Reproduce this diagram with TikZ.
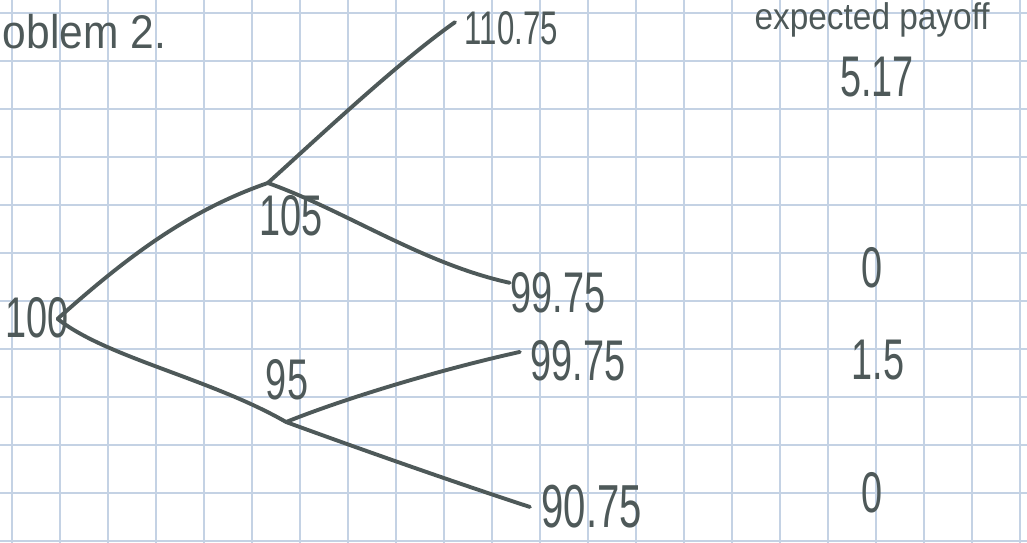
\documentclass[tikz,border=0pt]{standalone}
\usepackage{fontspec}
\newfontfamily\handfont[FakeStretch=0.66]{Liberation Sans}
\newfontfamily\handwide[FakeStretch=0.9]{Liberation Sans}
\definecolor{ink}{RGB}{78,89,89}
\definecolor{gridblue}{RGB}{196,210,228}

\begin{document}
\begin{tikzpicture}[every node/.style={font=\handfont\fontsize{34}{34}\selectfont, text=ink, inner sep=1pt},
    branch/.style={ink, line width=2.3pt, line cap=round}]
    \useasboundingbox (0,0) rectangle (21.396,11.292);
    \clip (0,0) rectangle (21.396,11.292);
    \fill[white] (0,0) rectangle (21.396,11.292);
    % papel quadriculado
    \draw[gridblue, line width=0.9pt, xshift=0.25cm, yshift=0.021cm] (-1,-1) grid (22,12);
    \node[font=\handwide\fontsize{28}{28}\selectfont, anchor=base west] (title) at (0.02,10.29) {oblem 2.};
    \node[font=\handwide\fontsize{22}{22}\selectfont, anchor=base] (payhead) at (18.17,10.67) {expected payoff};
    \node (price) at (18.27,9.69) {5.17};
    % arvore binomial
    \node (n100) at (0.77,4.67) {100};
    \node (n105) at (6.06,6.79) {105};
    \node (n95) at (5.98,3.375) {95};
    \node[font=\handfont\fontsize{28}{28}\selectfont] (n11075) at (10.65,10.71) {110.75};
    \node (n9975a) at (11.625,5.19) {99.75};
    \node (n9975b) at (12.04,3.77) {99.75};
    \node[font=\handfont\fontsize{36}{36}\selectfont] (n9075) at (12.33,0.73) {90.75};
    \coordinate (r) at (1.2,4.65);
    \coordinate (u) at (5.58,7.48);
    \coordinate (d) at (5.96,2.5);
    \coordinate (uu) at (9.48,10.83);
    \coordinate (ud) at (10.62,5.4);
    \coordinate (du) at (10.83,3.96);
    \coordinate (dd) at (11.04,0.73);
    \draw[branch] (r) .. controls (2.6,5.9) and (3.9,6.9) .. (u);
    \draw[branch] (r) .. controls (2.2,3.85) and (4.4,3.4) .. (d);
    \draw[branch] (u) .. controls (6.6,8.4) and (8.3,10.0) .. (uu);
    \draw[branch] (u) .. controls (7.2,6.9) and (8.8,5.8) .. (ud);
    \draw[branch] (d) .. controls (7.2,3.0) and (9.2,3.6) .. (du);
    \draw[branch] (d) .. controls (7.6,1.9) and (9.6,1.2) .. (dd);
    % payoffs
    \node (pay1) at (18.17,5.71) {0};
    \node (pay2) at (18.29,3.79) {1.5};
    \node (pay3) at (18.17,1.02) {0};
\end{tikzpicture}
\end{document}
